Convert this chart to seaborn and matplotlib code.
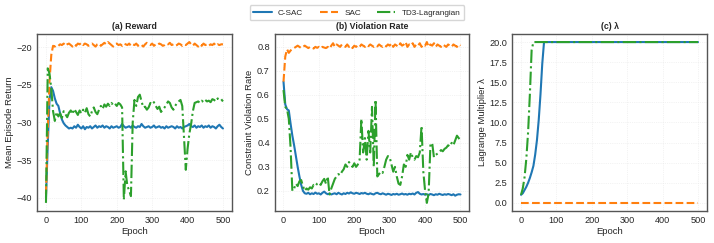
"""Training curves: reward, violation rate and lambda for three agents."""
import matplotlib
matplotlib.use("Agg")
import matplotlib.pyplot as plt
import seaborn as sns

# epochs shared by the reward and violation panels (one value every 5 epochs)
epochs = list(range(0, 505, 5))

reward_csac = [
    -40.0, -33.0, -27.0, -25.3, -25.8, -26.8, -27.5, -27.8, -28.8, -29.6,
    -30.1, -30.4, -30.6, -30.8, -30.7, -30.8, -30.5, -30.7, -30.3, -30.6,
    -30.8, -30.5, -30.9, -30.6, -30.7, -30.5, -30.8, -30.6, -30.4, -30.7,
    -30.5, -30.6, -30.4, -30.7, -30.5, -30.6, -30.8, -30.5, -30.7, -30.6,
    -30.5, -30.7, -30.6, -30.2, -30.5, -30.7, -30.6, -30.5, -30.7, -30.4,
    -30.6, -30.7, -30.5, -30.6, -30.2, -30.5, -30.7, -30.6, -30.5, -30.7,
    -30.6, -30.4, -30.7, -30.6, -30.5, -30.7, -30.6, -30.8, -30.5, -30.7,
    -30.6, -30.5, -30.6, -30.8, -30.5, -30.7, -30.6, -30.8, -30.6, -30.5,
    -30.4, -30.2, -30.5, -30.6, -30.4, -30.7, -30.5, -30.6, -30.4, -30.7,
    -30.5, -30.6, -30.4, -30.7, -30.5, -30.6, -30.8, -30.5, -30.3, -30.6,
    -30.8,
]
reward_sac = [
    -39.5, -31.0, -24.5, -21.0, -19.8, -19.9, -19.7, -19.8, -19.6, -19.7,
    -19.5, -19.8, -19.6, -19.5, -19.7, -19.9, -19.6, -19.8, -19.5, -19.6,
    -19.4, -19.7, -19.5, -19.6, -19.8, -19.6, -19.5, -19.7, -19.9, -19.6,
    -19.5, -19.8, -19.6, -19.4, -19.6, -19.3, -19.5, -19.7, -19.9, -19.6,
    -19.5, -19.7, -19.6, -19.8, -19.5, -19.6, -19.7, -19.5, -19.8, -19.6,
    -19.7, -19.5, -19.8, -19.6, -19.7, -19.9, -19.6, -19.4, -19.6, -19.7,
    -19.5, -19.8, -19.6, -19.7, -19.5, -19.6, -19.8, -19.7, -19.5, -19.6,
    -19.4, -19.7, -19.6, -19.8, -19.7, -19.5, -19.6, -19.8, -19.6, -19.7,
    -19.5, -19.3, -19.6, -19.8, -19.5, -19.7, -19.9, -19.6, -19.8, -19.5,
    -19.7, -19.6, -19.8, -19.6, -19.7, -19.5, -19.8, -19.6, -19.7, -19.6,
    -19.6,
]
reward_td3 = [
    -40.7, -22.8, -23.5, -25.5, -28.5, -29.8, -28.6, -29.2, -28.8, -29.4,
    -28.5, -28.9, -29.3, -28.7, -28.4, -28.9, -28.2, -28.6, -29.0, -28.4,
    -28.8, -28.3, -28.7, -28.1, -28.9, -29.2, -28.5, -28.0, -28.6, -28.9,
    -28.3, -27.8, -28.2, -27.6, -27.9, -27.5, -27.8, -27.4, -27.7, -27.5,
    -27.8, -27.4, -27.6, -28.0, -40.3, -36.5, -38.5, -39.0, -39.8, -30.0,
    -27.0, -27.8, -26.6, -26.3, -27.2, -28.0, -27.9, -28.3, -28.0, -27.4,
    -27.6, -27.3, -27.8, -28.2, -27.9, -28.6, -28.3, -28.0, -27.6, -27.2,
    -27.4, -28.0, -28.3, -27.8, -27.4, -27.2, -27.0, -27.8, -32.0, -36.3,
    -33.5, -31.5, -30.2, -28.5, -27.4, -27.3, -27.2, -27.4, -27.1, -27.3,
    -27.0, -27.2, -27.1, -27.3, -26.9, -27.0, -27.2, -26.8, -27.0, -26.9,
    -27.2,
]

viol_csac = [
    0.655, 0.56, 0.54, 0.535, 0.48, 0.43, 0.39, 0.345, 0.30, 0.26,
    0.225, 0.20, 0.19, 0.188, 0.192, 0.186, 0.19, 0.187, 0.193, 0.188,
    0.19, 0.185, 0.192, 0.197, 0.19, 0.186, 0.189, 0.185, 0.188, 0.19,
    0.186, 0.192, 0.188, 0.185, 0.19, 0.187, 0.192, 0.189, 0.194, 0.19,
    0.188, 0.192, 0.19, 0.187, 0.191, 0.189, 0.192, 0.188, 0.186, 0.19,
    0.187, 0.185, 0.19, 0.192, 0.188, 0.186, 0.19, 0.187, 0.184, 0.188,
    0.186, 0.183, 0.187, 0.185, 0.188, 0.184, 0.186, 0.189, 0.185, 0.187,
    0.184, 0.188, 0.186, 0.189, 0.185, 0.192, 0.195, 0.188, 0.185, 0.187,
    0.184, 0.186, 0.183, 0.187, 0.185, 0.182, 0.186, 0.184, 0.188, 0.185,
    0.183, 0.186, 0.184, 0.187, 0.185, 0.182, 0.186, 0.180, 0.184, 0.186,
    0.185,
]
viol_sac = [
    0.655, 0.76, 0.79, 0.775, 0.785, 0.79, 0.795, 0.80, 0.805, 0.80,
    0.795, 0.80, 0.805, 0.80, 0.795, 0.80, 0.798, 0.793, 0.80, 0.796,
    0.80, 0.794, 0.80, 0.797, 0.795, 0.80, 0.793, 0.805, 0.815, 0.80,
    0.81, 0.805, 0.80, 0.81, 0.805, 0.80, 0.81, 0.80, 0.805, 0.795,
    0.805, 0.80, 0.806, 0.80, 0.81, 0.805, 0.80, 0.808, 0.803, 0.81,
    0.805, 0.80, 0.806, 0.802, 0.81, 0.804, 0.80, 0.807, 0.802, 0.81,
    0.805, 0.815, 0.80, 0.81, 0.805, 0.80, 0.815, 0.805, 0.81, 0.82,
    0.80, 0.81, 0.805, 0.815, 0.80, 0.81, 0.805, 0.815, 0.80, 0.81,
    0.805, 0.82, 0.80, 0.81, 0.805, 0.815, 0.80, 0.81, 0.805, 0.80,
    0.81, 0.805, 0.80, 0.81, 0.805, 0.80, 0.81, 0.805, 0.80, 0.81,
    0.805,
]
viol_td3 = [
    0.62, 0.55, 0.54, 0.50, 0.38, 0.20, 0.21, 0.23, 0.22, 0.24,
    0.245, 0.22, 0.20, 0.21, 0.205, 0.215, 0.21, 0.225, 0.22, 0.23,
    0.235, 0.225, 0.24, 0.25, 0.23, 0.26, 0.185, 0.21, 0.23, 0.25,
    0.26, 0.27, 0.265, 0.28, 0.29, 0.31, 0.30, 0.32, 0.31, 0.30,
    0.315, 0.30, 0.31, 0.33, 0.50, 0.36, 0.42, 0.33, 0.45, 0.36,
    0.55, 0.30, 0.58, 0.26, 0.27, 0.28, 0.275, 0.30, 0.33, 0.345,
    0.34, 0.31, 0.28, 0.30, 0.26, 0.23, 0.225, 0.26, 0.31, 0.30,
    0.35, 0.33, 0.36, 0.34, 0.33, 0.345, 0.34, 0.36, 0.47, 0.28,
    0.20, 0.15, 0.19, 0.39, 0.40, 0.34, 0.35, 0.355, 0.36, 0.37,
    0.365, 0.375, 0.38, 0.39, 0.385, 0.40, 0.39, 0.41, 0.43, 0.42,
    0.41,
]

# lambda panel: dense points during the ramp, flat at the cap afterwards
lam_epochs = [0, 5, 10, 15, 20, 25, 30, 35, 40, 45, 50, 55, 60, 65,
              70, 100, 200, 300, 400, 500]
lam_csac = [1.0, 1.2, 1.6, 2.0, 2.5, 3.1, 3.8, 4.6, 6.0, 7.8, 10.3, 13.5,
            17.3, 20.0, 20.0, 20.0, 20.0, 20.0, 20.0, 20.0]
lam_sac = [0.0, 0.0, 0.0, 0.0, 0.0, 0.0, 0.0, 0.0, 0.0, 0.0, 0.0, 0.0,
           0.0, 0.0, 0.0, 0.0, 0.0, 0.0, 0.0, 0.0]
lam_td3 = [1.0, 1.8, 3.2, 5.5, 8.8, 13.5, 19.0, 20.0, 20.0, 20.0, 20.0,
           20.0, 20.0, 20.0, 20.0, 20.0, 20.0, 20.0, 20.0, 20.0]

labels = ["C-SAC", "SAC", "TD3-Lagrangian"]
colors = ["#1f77b4", "#ff7f0e", "#2ca02c"]
styles = ["-", "--", "-."]


def draw_panel(ax, x, series, title, ylabel):
    for y, lab, col, ls in zip(series, labels, colors, styles):
        sns.lineplot(x=x, y=y, ax=ax, color=col, linestyle=ls,
                     linewidth=1.5, label=lab, legend=False)
    ax.set_title(title, fontsize=6.3, fontweight="bold", pad=3.5)
    ax.set_xlabel("Epoch", fontsize=6.8, labelpad=1.5)
    ax.set_ylabel(ylabel, fontsize=6.8, labelpad=2)
    ax.tick_params(labelsize=6.6, pad=3.5, length=0)
    ax.grid(True, color="#e8e8e8", linewidth=0.5, linestyle=":")
    for sp in ax.spines.values():
        sp.set_color("#555555")
        sp.set_linewidth(1.0)


def main():
    sns.set_theme(style="whitegrid")
    plt.rcParams["font.family"] = ["Liberation Sans", "DejaVu Sans"]
    fig, axes = plt.subplots(1, 3, figsize=(7.14, 2.43), dpi=100)
    plt.subplots_adjust(left=0.052, right=0.990, top=0.860, bottom=0.132,
                        wspace=0.22)

    draw_panel(axes[0], epochs, [reward_csac, reward_sac, reward_td3],
               "(a) Reward", "Mean Episode Return")
    draw_panel(axes[1], epochs, [viol_csac, viol_sac, viol_td3],
               "(b) Violation Rate", "Constraint Violation Rate")
    draw_panel(axes[2], lam_epochs, [lam_csac, lam_sac, lam_td3],
               "(c) λ", "Lagrange Multiplier λ")

    handles, labs = axes[0].get_legend_handles_labels()
    fig.legend(handles, labs, loc="upper center", bbox_to_anchor=(0.5, 0.995),
               ncol=3, fontsize=5.9, frameon=True, edgecolor="#cccccc",
               handlelength=2.2, columnspacing=2.0, borderpad=0.45)

    fig.savefig("out.png", dpi=100)
    plt.close(fig)


if __name__ == "__main__":
    main()
